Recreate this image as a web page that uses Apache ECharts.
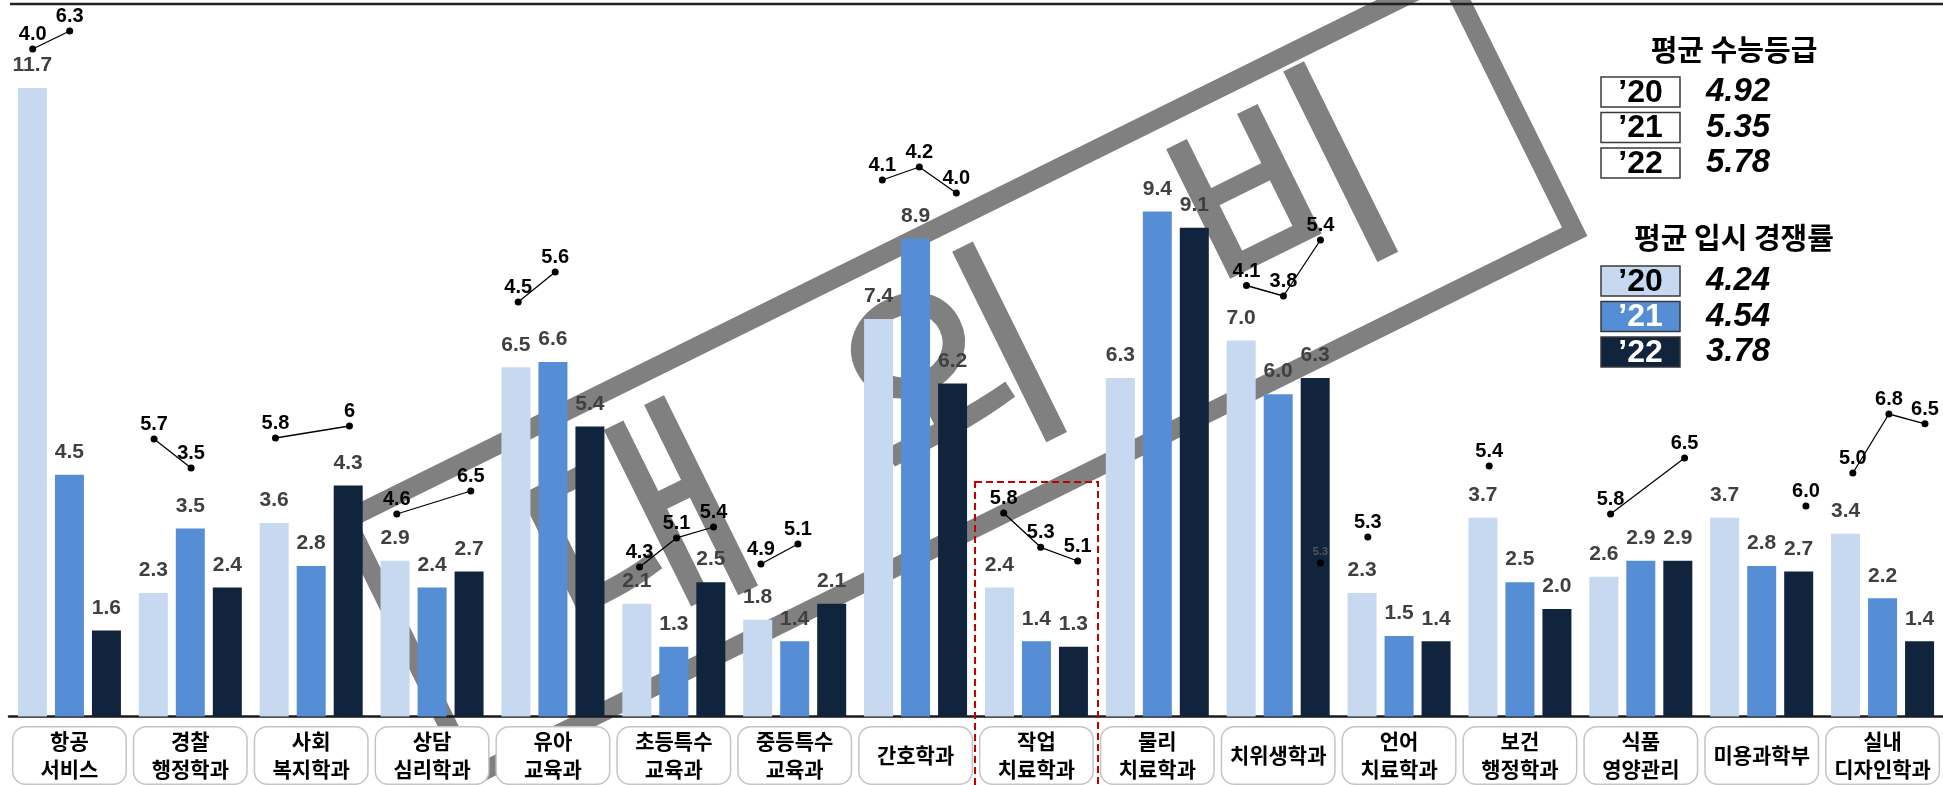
<!DOCTYPE html>
<html>
<head>
<meta charset="utf-8">
<script src="https://cdn.jsdelivr.net/npm/echarts@6/dist/echarts.min.js"></script>
<style>
  html, body { margin: 0; padding: 0; background: #fff; }
  #main { width: 1943px; height: 785px; }
</style>
</head>
<body>
<div id="main"></div>
<script>
// 학과별 입시 경쟁률 ('20~'22) + 평균 수능등급
var categories = ['항공\n서비스', '경찰\n행정학과', '사회\n복지학과', '상담\n심리학과', '유아\n교육과',
    '초등특수\n교육과', '중등특수\n교육과', '간호학과', '작업\n치료학과', '물리\n치료학과',
    '치위생학과', '언어\n치료학과', '보건\n행정학과', '식품\n영양관리', '미용과학부', '실내\n디자인학과'];
var years = ['’20', '’21', '’22'];

// 입시 경쟁률
var rate20 = [11.7, 2.3, 3.6, 2.9, 6.5, 2.1, 1.8, 7.4, 2.4, 6.3, 7.0, 2.3, 3.7, 2.6, 3.7, 3.4];
var rate21 = [4.5, 3.5, 2.8, 2.4, 6.6, 1.3, 1.4, 8.9, 1.4, 9.4, 6.0, 1.5, 2.5, 2.9, 2.8, 2.2];
var rate22 = [1.6, 2.4, 4.3, 2.7, 5.4, 2.5, 2.1, 6.2, 1.3, 9.1, 6.3, 1.4, 2.0, 2.9, 2.7, 1.4];

// 수능등급 (label text kept as written)
var grade20 = ['4.0', '5.7', '5.8', '4.6', '4.5', '4.3', '4.9', '4.1', '5.8', null, '4.1', '5.3', '5.4', '5.8', null, '5.0'];
var grade21 = ['6.3', '3.5', null, null, '5.6', '5.1', '5.1', '4.2', '5.3', null, '3.8', null, null, null, null, '6.8'];
var grade22 = [null, null, '6', '6.5', null, '5.4', null, '4.0', '5.1', null, '5.4', null, null, '6.5', '6.0', '6.5'];
var strayGrade = '5.3'; // small leftover label on 치위생 '22

// 평균
var avgGrade = [4.92, 5.35, 5.78];
var avgRate = [4.24, 4.54, 3.78];

var colors = ['#C6D9F1', '#558ED5', '#10243E'];

// layout: each small grade chart sits in its own box (pixel y of highest / lowest point)
var gradeHiY = [31, 439, 426, 491, 272, 527, 544, 167, 513, null, 240, 537, 466, 458, 506, 414];
var gradeLoY = [49, 468, 438, 514, 302, 567, 564, 193, 561, null, 296, 537, 466, 514, 506, 473];

var GRID_LEFT = 9, GRID_W = 1942, CAT_W = GRID_W / categories.length;
var BAR_W = 29, BAR_STEP = 37;
var NUM_FONT = '"Liberation Sans", Arial, sans-serif';
var KR_FONT = '"Noto Sans CJK KR", sans-serif';

var grids = [{left: GRID_LEFT, width: GRID_W, top: 45, bottom: 68}];
var xAxes = [{
    type: 'category',
    data: categories,
    gridIndex: 0,
    axisLine: {lineStyle: {color: '#1a1a1a', width: 2.5}},
    axisTick: {show: false},
    axisLabel: {
        interval: 0,
        margin: 11,
        width: 112,
        align: 'center',
        color: '#000',
        fontSize: 21,
        fontWeight: 'bold',
        fontFamily: KR_FONT,
        lineHeight: 28,
        backgroundColor: '#fff',
        borderColor: '#c4c4c4',
        borderWidth: 1.5,
        borderRadius: 12,
        formatter: function (v) {
            return v.indexOf('\n') >= 0 ? v : '{one|' + v + '}';
        },
        rich: {
            one: {lineHeight: 56, fontSize: 21, fontWeight: 'bold', fontFamily: KR_FONT, color: '#000'}
        }
    }
}];
var yAxes = [{type: 'value', gridIndex: 0, min: 0, max: 12.5, show: false}];
var series = [];

[rate20, rate21, rate22].forEach(function (arr, k) {
    series.push({
        type: 'bar',
        name: years[k],
        data: arr,
        barWidth: BAR_W,
        barGap: (100 * (BAR_STEP - BAR_W) / BAR_W).toFixed(1) + '%',
        itemStyle: {color: colors[k]},
        label: {
            show: true,
            position: 'top',
            distance: 12,
            color: '#404040',
            fontSize: 21,
            fontWeight: 'bold',
            fontFamily: NUM_FONT,
            formatter: function (p) { return p.value.toFixed(1); }
        }
    });
});

function addGradeChart(i, texts, hi, lo, small) {
    var vals = texts.map(function (t) { return t == null ? null : Number(t); });
    var present = vals.filter(function (v) { return v != null; });
    if (!present.length) return;
    var mn = Math.min.apply(null, present), mx = Math.max.apply(null, present);
    var top = hi, h = lo - hi;
    if (mx === mn || h <= 0) { mn -= 1; mx += 1; top = hi - 10; h = 20; }
    var g = grids.length;
    var center = GRID_LEFT + (i + 0.5) * CAT_W;
    grids.push({left: center - 1.5 * BAR_STEP, width: 3 * BAR_STEP, top: top, height: h});
    xAxes.push({type: 'category', gridIndex: g, data: years, show: false, boundaryGap: true});
    yAxes.push({type: 'value', gridIndex: g, min: mn, max: mx, show: false});
    series.push({
        type: 'line',
        xAxisIndex: g,
        yAxisIndex: g,
        data: vals,
        connectNulls: true,
        symbol: 'circle',
        symbolSize: 7,
        lineStyle: {color: '#000', width: 1.3},
        itemStyle: {color: '#000'},
        label: {
            show: true,
            position: 'top',
            distance: small ? 2 : 1,
            color: small ? '#555' : '#000',
            fontSize: small ? 11 : 20,
            fontWeight: 'bold',
            fontFamily: NUM_FONT,
            formatter: function (p) { return texts[p.dataIndex]; }
        },
        silent: true
    });
}

categories.forEach(function (c, i) {
    if (gradeHiY[i] == null) return;
    addGradeChart(i, [grade20[i], grade21[i], grade22[i]], gradeHiY[i], gradeLoY[i], false);
});
addGradeChart(10, [null, null, strayGrade], 563, 563, true);

// legend panel + decorations
var graphics = [];
function wmChar(ch, x, y) {
    return {type: 'text', x: x, y: y,
        style: {text: ch, font: '230px ' + KR_FONT, fill: '#808080', stroke: '#808080', lineWidth: 4,
            textAlign: 'center', textVerticalAlign: 'middle'}};
}
// 대외비 watermark (behind bars)
graphics.push({
    type: 'group', x: 960, y: 376, rotation: 0.459, z: -10,
    children: [
        {type: 'rect', shape: {x: -614, y: -143, width: 1229, height: 286},
         style: {fill: 'none', stroke: '#808080', lineWidth: 19}},
        wmChar('대', -358, -9),
        wmChar('외', -6, -10),
        wmChar('비', 370, -25)
    ]
});
// top rule
graphics.push({type: 'line', shape: {x1: 10, y1: 4, x2: 1943, y2: 4}, style: {stroke: '#222', lineWidth: 2.5}, z: 5});
// red dashed highlight box
graphics.push({type: 'rect', shape: {x: 975, y: 482, width: 123, height: 320},
    style: {fill: 'none', stroke: '#c00000', lineWidth: 2, lineDash: [7, 4]}, z: 5});

function legendBlock(title, titleY, boxY, values, fills, textColors) {
    graphics.push({type: 'text', x: 1734, y: titleY, z: 5,
        style: {text: title, font: 'bold 29px ' + KR_FONT, fill: '#000', textAlign: 'center', textVerticalAlign: 'middle'}});
    values.forEach(function (v, k) {
        var y = boxY + k * 35.5;
        graphics.push({type: 'rect', z: 5, shape: {x: 1601, y: y, width: 79, height: 30},
            style: {fill: fills[k], stroke: '#3a3a3a', lineWidth: 1.5}});
        graphics.push({type: 'text', x: 1640.5, y: y + 16, z: 6,
            style: {text: years[k], font: 'bold 32px ' + NUM_FONT, fill: textColors[k], textAlign: 'center', textVerticalAlign: 'middle'}});
        graphics.push({type: 'text', x: 1706, y: y + 15, z: 6,
            style: {text: v.toFixed(2), font: 'italic bold 33px ' + NUM_FONT, fill: '#000', textAlign: 'left', textVerticalAlign: 'middle'}});
    });
}
legendBlock('평균 수능등급', 50, 77, avgGrade, ['#fff', '#fff', '#fff'], ['#000', '#000', '#000']);
legendBlock('평균 입시 경쟁률', 238, 266, avgRate, colors, ['#000', '#fff', '#fff']);

var option = {
    animation: false,
    grid: grids,
    xAxis: xAxes,
    yAxis: yAxes,
    series: series,
    graphic: graphics
};
var myChart = echarts.init(document.getElementById('main'));
myChart.setOption(option);
</script>
</body>
</html>
